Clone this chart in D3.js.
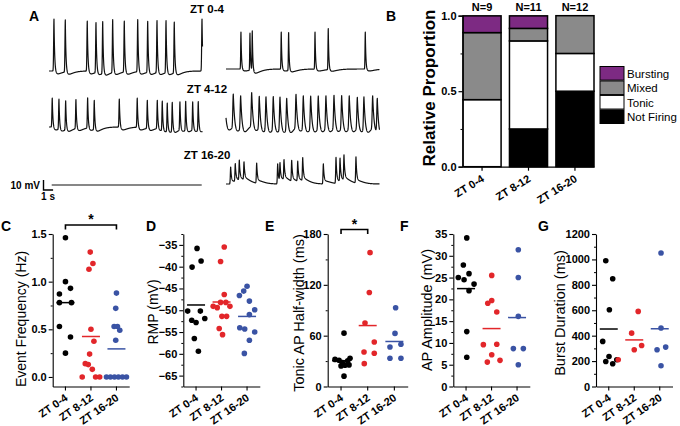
<!DOCTYPE html>
<html>
<head>
<meta charset="utf-8">
<script src="https://cdn.jsdelivr.net/npm/d3@7"></script>
<style>
  body { margin: 0; background: #fff; }
  svg { display: block; font-family: "Liberation Sans", Arial, sans-serif; }
</style>
</head>
<body>
<svg id="fig" width="680" height="426"></svg>
<script>
// ---------- data ----------
const zones = ['ZT 0-4', 'ZT 8-12', 'ZT 16-20'];
const zoneColors = ['#000000', '#e2262a', '#3a53a4'];

// Panel A: example recordings, 16 s sweeps. Each spike = [time (s), height (mV)]
const spikesTopLeft = [[0.52, 52], [1.70, 52], [3.99, 50], [4.90, 50], [5.60, 52], [6.64, 53], [7.85, 51],
  [9.25, 52], [10.29, 51], [11.26, 52], [12.20, 52], [13.06, 51], [15.95, 52]];
const spikesTopRight = [[1.56, 37], [2.50, 37], [2.74, 40], [5.76, 37], [6.53, 38], [9.28, 37], [10.66, 41], [14.52, 37]];
const spikesMidLeft = [[0.34, 29], [1.04, 30], [1.74, 29], [2.81, 29], [4.03, 30], [4.72, 29], [7.33, 28], [9.20, 29],
  [10.25, 28], [11.29, 28], [11.81, 29], [12.33, 28], [12.85, 29], [13.65, 28], [14.25, 29], [14.98, 28], [15.56, 29]];
const spikesMidRight = [[-0.15, 30], [0.76, 33], [1.53, 33], [2.68, 33], [3.47, 32], [4.17, 33], [4.93, 33], [5.63, 33],
  [6.33, 32], [7.30, 33], [8.06, 33], [8.83, 33], [9.62, 33], [10.42, 33], [11.26, 33], [12.06, 33], [12.85, 33],
  [13.69, 31], [14.38, 33], [15.29, 32], [15.77, 33]];
const spikesBottomLeft = [];
const spikesBottomRight = [[0.49, 17], [0.97, 18], [1.39, 20], [1.88, 18], [3.20, 20], [5.39, 20], [5.63, 18], [6.05, 20],
  [6.85, 21], [7.48, 20], [8.00, 23], [10.15, 20], [11.47, 26], [11.89, 23], [12.30, 25], [13.55, 26]];

// Panel B: proportion of cells per firing type
const firingTypes = ['Not Firing', 'Tonic', 'Mixed', 'Bursting'];
const notFiring = [0, 0.25, 0.5];
const tonic = [0.444, 0.583, 0.25];
const mixed = [0.444, 0.083, 0.25];
const bursting = [0.111, 0.083, 0];
const sampleSizes = [9, 11, 12];

// Panels C-G: values per group, plus horizontal scatter offset (-1..1)
const freqVals = [[1.46, 1.00, 0.93, 0.87, 0.78, 0.78, 0.53, 0.42, 0.25],
  [1.31, 1.19, 1.13, 0.50, 0.375, 0.24, 0.14, 0.13, 0.08, 0, 0, 0],
  [0.88, 0.72, 0.53, 0.53, 0.49, 0.385, 0, 0, 0, 0, 0, 0]];
const freqJit = [[0, 0, 0.56, -0.67, -0.67, 0.67, -0.67, 0.56, 0],
  [-0.08, 0.22, -0.22, 0, 0.33, -0.15, -0.63, -0.3, 0.15, -0.97, 0.52, 0.97],
  [0, -0.08, -0.26, 0.11, 0.37, -0.08, -1.11, -0.67, -0.22, 0.22, 0.67, 1.11]];

const rmpVals = [[-35.8, -38.7, -40.1, -50.2, -50.2, -52.3, -52.8, -51.9, -56.5, -59.4],
  [-35.5, -38.8, -46.4, -48.2, -48.2, -49.1, -49.1, -49.4, -51.4, -51.4, -54.2, -55.6],
  [-44.5, -45.6, -46.6, -47.9, -49.9, -51.0, -54.0, -54.3, -55.0, -56.9, -59.9]];
const rmpJit = [[0.11, 0.56, -0.44, -0.93, 0.48, -0.48, 0, 0.97, -0.19, 0.26],
  [0.3, -0.11, 0.3, -0.11, 0.48, 0.93, -0.93, -0.48, 0.04, 0.56, -0.26, 0.11],
  [0, -0.37, -0.85, 0.26, 0.85, 0.26, -0.81, -0.26, 0.85, 0.26, -0.3]];

const halfWidthVals = [[63, 32, 31, 33.3, 30.2, 28.2, 25.5, 24.3, 25, 12.2],
  [158, 111, 75, 52.5, 40.8, 39.2, 27],
  [93, 62.7, 46.7, 49.8, 33.3, 33.3]];
const halfWidthJit = [[0.33, -0.67, -0.22, 1.0, 0.74, 0.14, 0.89, 0, 0.44, 0.33],
  [0.26, 0.18, -0.3, 0.73, -0.41, 0.73, -0.38],
  [0.14, 0.07, -0.49, 0.73, -0.49, 0.73]];

const ampVals = [[34.1, 27.9, 25.0, 24.5, 25.9, 23.5, 22.0, 12.6, 6.7],
  [25.5, 19.75, 19.1, 17.1, 9.6, 9.7, 7.3, 5.6, 6.0],
  [31.4, 25.0, 16.1, 8.7, 8.7, 5.0]];
const ampJit = [[0.08, -0.3, -0.86, -0.22, 0.33, 0.89, 0.33, 0.08, 0.08],
  [0.02, 0.02, -0.42, 0.58, -0.91, 0.58, 0.02, -0.47, 0.94],
  [0.14, 0.14, 0.14, -0.41, 0.7, 0.14]];

const burstVals = [[990, 848, 604, 355, 236, 197, 179, 210],
  [591, 420, 323, 289, 210],
  [1050, 460, 310, 289, 163]];
const burstJit = [[-0.33, 0.44, 0.07, -0.67, 0.03, -0.33, 0.44, 0.89],
  [0.44, -0.29, 0.82, 0, -1.78],
  [0.14, 0.14, 0.66, -0.3, 0.14]];

// ---------- drawing ----------
const svg = d3.select('#fig');
const font = '"Liberation Sans", Arial, sans-serif';
const tickFont = '11px';

function panelLetter(txt, x, y) {
  svg.append('text').attr('x', x).attr('y', y)
    .style('font-size', '14px').style('font-weight', 'bold').text(txt);
}

// ---- Panel A: traces ----
panelLetter('A', 29, 21);
panelLetter('B', 386, 21);

const sweep = 16;
const leftX = d3.scaleLinear().domain([0, sweep]).range([49, 202.5]);
const rightX = d3.scaleLinear().domain([0, sweep]).range([226, 379.5]);

function buildTrace(spikes, shape) {
  const ts = d3.range(0, sweep + 0.001, 0.01).concat(spikes.map(d => d[0]).filter(t => t >= 0));
  ts.sort((a, b) => a - b);
  return ts.map(t => {
    let v = 0;
    spikes.forEach(([st, a]) => {
      const dt = t - st;
      if (dt < 0) v += a * Math.exp(-((dt / shape.rise) ** 2));
      else {
        v += a * Math.exp(-dt / shape.decay);
        v -= shape.ahp * (dt / shape.ahpT) * Math.exp(1 - dt / shape.ahpT);
      }
    });
    return [t, v];
  });
}

const sharp = { rise: 0.05, decay: 0.07, ahp: 3, ahpT: 0.35 };
const traces = [
  { spikes: spikesTopLeft, x: leftX, rest: 71, shape: sharp },
  { spikes: spikesTopRight, x: rightX, rest: 69, shape: { rise: 0.04, decay: 0.06, ahp: 2, ahpT: 0.4 } },
  { spikes: spikesMidLeft, x: leftX, rest: 127, shape: sharp },
  { spikes: spikesMidRight, x: rightX, rest: 123, shape: { rise: 0.07, decay: 0.2, ahp: 11, ahpT: 0.3 } },
  { spikes: spikesBottomLeft, x: d3.scaleLinear().domain([0, sweep]).range([51.7, 201.7]), rest: 185, shape: sharp },
  { spikes: spikesBottomRight, x: rightX, rest: 184, shape: { rise: 0.05, decay: 0.08, ahp: -2.5, ahpT: 0.35 } }
];

traces.forEach(tr => {
  const y = d3.scaleLinear().domain([0, 10]).range([tr.rest, tr.rest - 10]);
  const line = d3.line().x(d => tr.x(d[0])).y(d => y(d[1]));
  svg.append('path')
    .datum(buildTrace(tr.spikes, tr.shape))
    .attr('d', line)
    .attr('fill', 'none')
    .attr('stroke', '#111')
    .attr('stroke-width', 1.2)
    .attr('stroke-linejoin', 'round');
});

[['ZT 0-4', 13], ['ZT 4-12', 93], ['ZT 16-20', 159]].forEach(([t, y]) => {
  svg.append('text').attr('x', 207).attr('y', y).attr('text-anchor', 'middle')
    .style('font-size', '11.5px').style('font-weight', 'bold').text(t);
});

// scale bar: 10 mV, 1 s
const barX = d3.scaleLinear().domain([0, 1]).range([43.5, 43.5 + (leftX(1) - leftX(0))]);
const barY = d3.scaleLinear().domain([0, 10]).range([190, 180]);
svg.append('path')
  .attr('d', `M${barX(0)},${barY(10)}V${barY(0)}H${barX(1)}`)
  .attr('fill', 'none').attr('stroke', '#000').attr('stroke-width', 1.4);
svg.append('text').attr('x', 40).attr('y', 189).attr('text-anchor', 'end')
  .style('font-size', '10px').style('font-weight', 'bold').text('10 mV');
svg.append('text').attr('x', 48).attr('y', 200).attr('text-anchor', 'middle')
  .style('font-size', '10px').style('font-weight', 'bold').text('1 s');

// ---- Panel B: stacked proportions ----
{
  const x = d3.scaleBand().domain(zones).range([463, 594]).paddingInner(0.18).paddingOuter(0);
  const y = d3.scaleLinear().domain([0, 1]).range([166.7, 15.7]);
  const rows = zones.map((z, i) => ({
    zone: z, 'Not Firing': notFiring[i], Tonic: tonic[i], Mixed: mixed[i], Bursting: bursting[i]
  }));
  const fills = { 'Not Firing': '#000000', Tonic: '#ffffff', Mixed: '#8a8a8a', Bursting: '#7d2a83' };
  const stacked = d3.stack().keys(firingTypes)(rows);

  const g = svg.append('g');
  stacked.forEach(layer => {
    g.selectAll(null).data(layer).enter().append('rect')
      .attr('x', d => x(d.data.zone))
      .attr('y', d => y(d[1]))
      .attr('width', x.bandwidth())
      .attr('height', d => y(d[0]) - y(d[1]))
      .attr('fill', fills[layer.key])
      .attr('stroke', '#000')
      .attr('stroke-width', 1.5);
  });

  const yAxis = svg.append('g').attr('transform', 'translate(462.5,0)')
    .call(d3.axisLeft(y).tickValues([0, 0.5, 1]).tickFormat(d3.format('.1f')).tickSize(4).tickPadding(2));
  svg.append('g').attr('transform', 'translate(462.5,0)')
    .call(d3.axisLeft(y).tickValues([0.25, 0.75]).tickFormat('').tickSize(2))
    .select('.domain').remove();
  const xAxis = svg.append('g').attr('transform', 'translate(0,166.7)')
    .call(d3.axisBottom(x).tickSize(4).tickSizeOuter(0));
  [yAxis, xAxis].forEach(a => {
    a.selectAll('path, line').attr('stroke', '#000').attr('stroke-width', 1.2);
    a.selectAll('text').style('font-family', font).style('font-size', tickFont).style('font-weight', 'bold').attr('fill', '#000');
  });
  xAxis.selectAll('text')
    .attr('text-anchor', 'end').attr('dy', null).attr('y', 0)
    .attr('transform', 'translate(3,14) rotate(-32)');

  svg.selectAll(null).data(sampleSizes).enter().append('text')
    .attr('x', (d, i) => x(zones[i]) + x.bandwidth() / 2)
    .attr('y', 11)
    .attr('text-anchor', 'middle')
    .style('font-size', '11px').style('font-weight', 'bold')
    .text(d => 'N=' + d);

  svg.append('text')
    .attr('transform', 'translate(429,88) rotate(-90)')
    .attr('text-anchor', 'middle').attr('dominant-baseline', 'central')
    .style('font-size', '17px').style('font-weight', 'bold')
    .text('Relative Proportion');

  const legendKeys = firingTypes.slice().reverse();
  const ly = d3.scaleBand().domain(legendKeys).range([66.5, 123.5]).paddingInner(0.06);
  legendKeys.forEach(k => {
    svg.append('rect').attr('x', 600).attr('y', ly(k)).attr('width', 24).attr('height', ly.bandwidth())
      .attr('fill', fills[k]).attr('stroke', '#000').attr('stroke-width', 1);
    svg.append('text').attr('x', 627).attr('y', ly(k) + ly.bandwidth() / 2 + 4.5)
      .style('font-size', '11.5px').text(k);
  });
}

// ---- Panels C-G: scatter of individual cells with group mean ----
const scatterPanels = [
  { letter: 'C', lx: 1, vals: freqVals, jit: freqJit, axisX: 52.7, domain: [-0.1, 1.5],
    ticks: [0, 0.5, 1, 1.5], minor: [0.25, 0.75, 1.25], fmt: d3.format('.1f'),
    title: 'Event Frequency (Hz)', titleX: 21, titleY: 319, titleSize: 14 },
  { letter: 'D', lx: 146, vals: rmpVals, jit: rmpJit, axisX: 183.3, domain: [-67.5, -32.5],
    ticks: d3.range(-65, -34, 5), minor: d3.range(-67.5, -32, 5), fmt: d3.format('d'),
    title: 'RMP (mV)', titleX: 153, titleY: 312, titleSize: 14 },
  { letter: 'E', lx: 265, vals: halfWidthVals, jit: halfWidthJit, axisX: 327.7, width: 80, domain: [0, 180],
    ticks: [0, 60, 120, 180], minor: [30, 90, 150], fmt: d3.format('d'),
    title: 'Tonic AP Half-width (ms)', titleX: 299, titleY: 313, titleSize: 14.5 },
  { letter: 'F', lx: 400, vals: ampVals, jit: ampJit, axisX: 453.3, domain: [0, 35],
    ticks: d3.range(0, 36, 5), minor: d3.range(2.5, 35, 5), fmt: d3.format('d'),
    title: 'AP Amplitude (mV)', titleX: 427, titleY: 310, titleSize: 14.5 },
  { letter: 'G', lx: 538, vals: burstVals, jit: burstJit, axisX: 596, domain: [0, 1200],
    ticks: d3.range(0, 1201, 200), minor: d3.range(100, 1200, 200), fmt: d3.format('d'),
    title: 'Burst Duration (ms)', titleX: 560, titleY: 313, titleSize: 14.5 }
];

const plotTop = 234, plotBottom = 386.5;

scatterPanels.forEach(p => {
  panelLetter(p.letter, p.lx, 231);
  const x = d3.scaleBand().domain(zones).range([p.axisX, p.axisX + (p.width || 76.5)]);
  const cx = z => x(z) + x.bandwidth() / 2;
  const jitter = d3.scaleLinear().domain([-1, 1]).range([-9, 9]);
  const y = d3.scaleLinear().domain(p.domain).range([plotBottom, plotTop]);

  const yAxis = svg.append('g').attr('transform', `translate(${p.axisX},0)`)
    .call(d3.axisLeft(y).tickValues(p.ticks).tickFormat(p.fmt).tickSize(4).tickSizeOuter(0).tickPadding(2));
  svg.append('g').attr('transform', `translate(${p.axisX},0)`)
    .call(d3.axisLeft(y).tickValues(p.minor).tickFormat('').tickSize(2))
    .select('.domain').remove();
  const xAxis = svg.append('g').attr('transform', `translate(0,${plotBottom})`)
    .call(d3.axisBottom(x).tickSize(4).tickSizeOuter(0));
  [yAxis, xAxis].forEach(a => {
    a.selectAll('path, line').attr('stroke', '#000').attr('stroke-width', 1.1);
    a.selectAll('text').style('font-family', font).style('font-size', tickFont).style('font-weight', 'bold').attr('fill', '#000');
  });
  xAxis.selectAll('text')
    .attr('text-anchor', 'end').attr('dy', null).attr('y', 0)
    .attr('transform', 'translate(3,13) rotate(-35)');

  svg.append('text')
    .attr('transform', `translate(${p.titleX},${p.titleY}) rotate(-90)`)
    .attr('text-anchor', 'middle').attr('dominant-baseline', 'central')
    .style('font-size', p.titleSize + 'px')
    .text(p.title);

  zones.forEach((z, gi) => {
    const pts = p.vals[gi].map((v, i) => ({ v, j: p.jit[gi][i] }));
    svg.selectAll(null).data(pts).enter().append('circle')
      .attr('cx', d => cx(z) + jitter(d.j))
      .attr('cy', d => y(d.v))
      .attr('r', 2.8)
      .attr('fill', zoneColors[gi]);
    const m = d3.mean(p.vals[gi]);
    svg.append('line')
      .attr('x1', cx(z) - 9).attr('x2', cx(z) + 9)
      .attr('y1', y(m)).attr('y2', y(m))
      .attr('stroke', zoneColors[gi]).attr('stroke-width', 1.5);
  });

  p.cx = cx;
});

// significance brackets
function bracket(p, a, b, yLine) {
  const x1 = p.cx(a), x2 = p.cx(b);
  svg.append('path')
    .attr('d', `M${x1},${yLine + 4.5}V${yLine}H${x2}V${yLine + 4.5}`)
    .attr('fill', 'none').attr('stroke', '#000').attr('stroke-width', 1.6);
  svg.append('text').attr('x', (x1 + x2) / 2).attr('y', yLine - 1)
    .attr('text-anchor', 'middle')
    .style('font-size', '14px').style('font-weight', 'bold').text('*');
}
bracket(scatterPanels[0], 'ZT 0-4', 'ZT 16-20', 225);
bracket(scatterPanels[2], 'ZT 0-4', 'ZT 8-12', 229.5);
</script>
</body>
</html>
